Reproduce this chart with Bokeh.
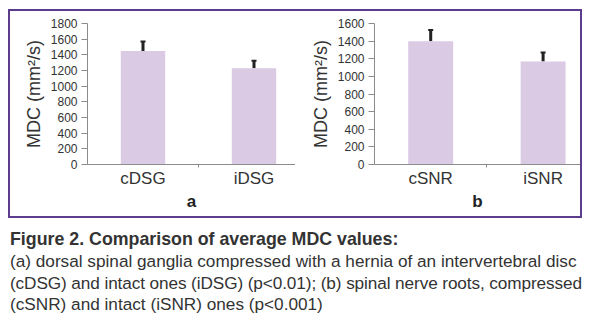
from bokeh.plotting import figure
from bokeh.models import (Range1d, FixedTicker, Whisker, TeeHead, ColumnDataSource, Div, Row, Column, Spacer)
from bokeh.embed import file_html
from bokeh.resources import INLINE

# ---- data ----
panel_a_categories = ["cDSG", "iDSG"]
panel_a_means = [1450, 1230]
panel_a_upper = [1570, 1325]
panel_a_ticks = [0, 200, 400, 600, 800, 1000, 1200, 1400, 1600, 1800]

panel_b_categories = ["cSNR", "iSNR"]
panel_b_means = [1400, 1170]
panel_b_upper = [1525, 1270]
panel_b_ticks = [0, 200, 400, 600, 800, 1000, 1200, 1400, 1600]

panel_letters = ["a", "b"]
y_title = "MDC (mm\u00b2/s)"

BAR = "#dbcae3"
FONT = "Liberation Sans"


def make_panel(cats, means, upper, ticks, letter, x_end, border_left):
    xs = [i + 0.5 for i in range(len(cats))]
    src = ColumnDataSource(dict(x=xs, top=means, upper=upper))
    p = figure(width=285, height=205, output_backend="svg", toolbar_location=None,
               x_range=Range1d(0, x_end), y_range=Range1d(0, ticks[-1]),
               min_border_left=border_left, min_border_right=0,
               min_border_top=12, min_border_bottom=52, margin=0)
    p.outline_line_color = None
    p.xgrid.visible = False
    p.ygrid.visible = False
    p.background_fill_color = "white"
    p.border_fill_color = "white"
    p.vbar(x="x", top="top", width=0.4, bottom=0, source=src,
           fill_color=BAR, line_color=None)
    w = Whisker(base="x", lower="top", upper="upper", source=src, dimension="height",
                line_color="#222222", line_width=3,
                upper_head=TeeHead(size=5, line_color="#222222", line_width=2),
                lower_head=None)
    p.add_layout(w)

    ya = p.yaxis[0]
    ya.ticker = FixedTicker(ticks=ticks, minor_ticks=[])
    ya.axis_line_color = "#8c8c8c"
    ya.major_tick_line_color = "#8c8c8c"
    ya.major_tick_out = 6
    ya.major_tick_in = 0
    ya.major_label_standoff = 4
    ya.major_label_text_font = FONT
    ya.major_label_text_font_size = "12px"
    ya.major_label_text_color = "#333333"
    ya.axis_label = y_title
    ya.axis_label_text_font = FONT
    ya.axis_label_text_font_size = "18px"
    ya.axis_label_text_font_style = "normal"
    ya.axis_label_text_color = "#333333"
    ya.axis_label_standoff = 4

    xa = p.xaxis[0]
    xa.ticker = FixedTicker(ticks=xs, minor_ticks=[1.0])
    xa.major_label_overrides = {x: c for x, c in zip(xs, cats)}
    xa.axis_line_color = "#8c8c8c"
    xa.major_tick_out = 0
    xa.major_tick_in = 0
    xa.minor_tick_line_color = "#8c8c8c"
    xa.minor_tick_out = 3
    xa.minor_tick_in = 0
    xa.major_label_standoff = 1
    xa.major_label_text_font = FONT
    xa.major_label_text_font_size = "17px"
    xa.major_label_text_color = "#333333"
    xa.axis_label = letter
    xa.axis_label_text_font = FONT
    xa.axis_label_text_font_size = "17px"
    xa.axis_label_text_font_style = "bold"
    xa.axis_label_text_color = "#222222"
    xa.axis_label_standoff = 1
    return p


p1 = make_panel(panel_a_categories, panel_a_means, panel_a_upper, panel_a_ticks,
                panel_letters[0], 208 / 111.0, 77)
p2 = make_panel(panel_b_categories, panel_b_means, panel_b_upper, panel_b_ticks,
                panel_letters[1], 206 / 112.4, 79)

box = Row(children=[p1, p2], margin=0,
          styles={"border": "2px solid #5b3c8d", "background-color": "white"})

top_row = Row(children=[Spacer(width=8, height=10, margin=0), box], margin=0)

caption = Div(text=(
    "<div style='font-family:\"Liberation Sans\",Arial,sans-serif;font-size:17.2px;"
    "line-height:21.8px;color:#333;white-space:nowrap'>"
    "<b style='font-size:17.8px'>Figure 2. Comparison of average MDC values:</b><br>"
    "(a) dorsal spinal ganglia compressed with a hernia of an intervertebral disc<br>"
    "<span style='letter-spacing:-0.1px'>(cDSG) and intact ones (iDSG) (p&lt;0.01); (b) spinal nerve roots, compressed</span><br>"
    "(cSNR) and intact (iSNR) ones (p&lt;0.001)</div>"),
    width=586, height=95, margin=0)

cap_row = Row(children=[Spacer(width=10, height=10, margin=0), caption], margin=0)

layout = Column(children=[Spacer(width=10, height=9, margin=0), top_row,
                          Spacer(width=10, height=11, margin=0), cap_row], margin=0)

open("out.html", "w").write(file_html(layout, INLINE))
